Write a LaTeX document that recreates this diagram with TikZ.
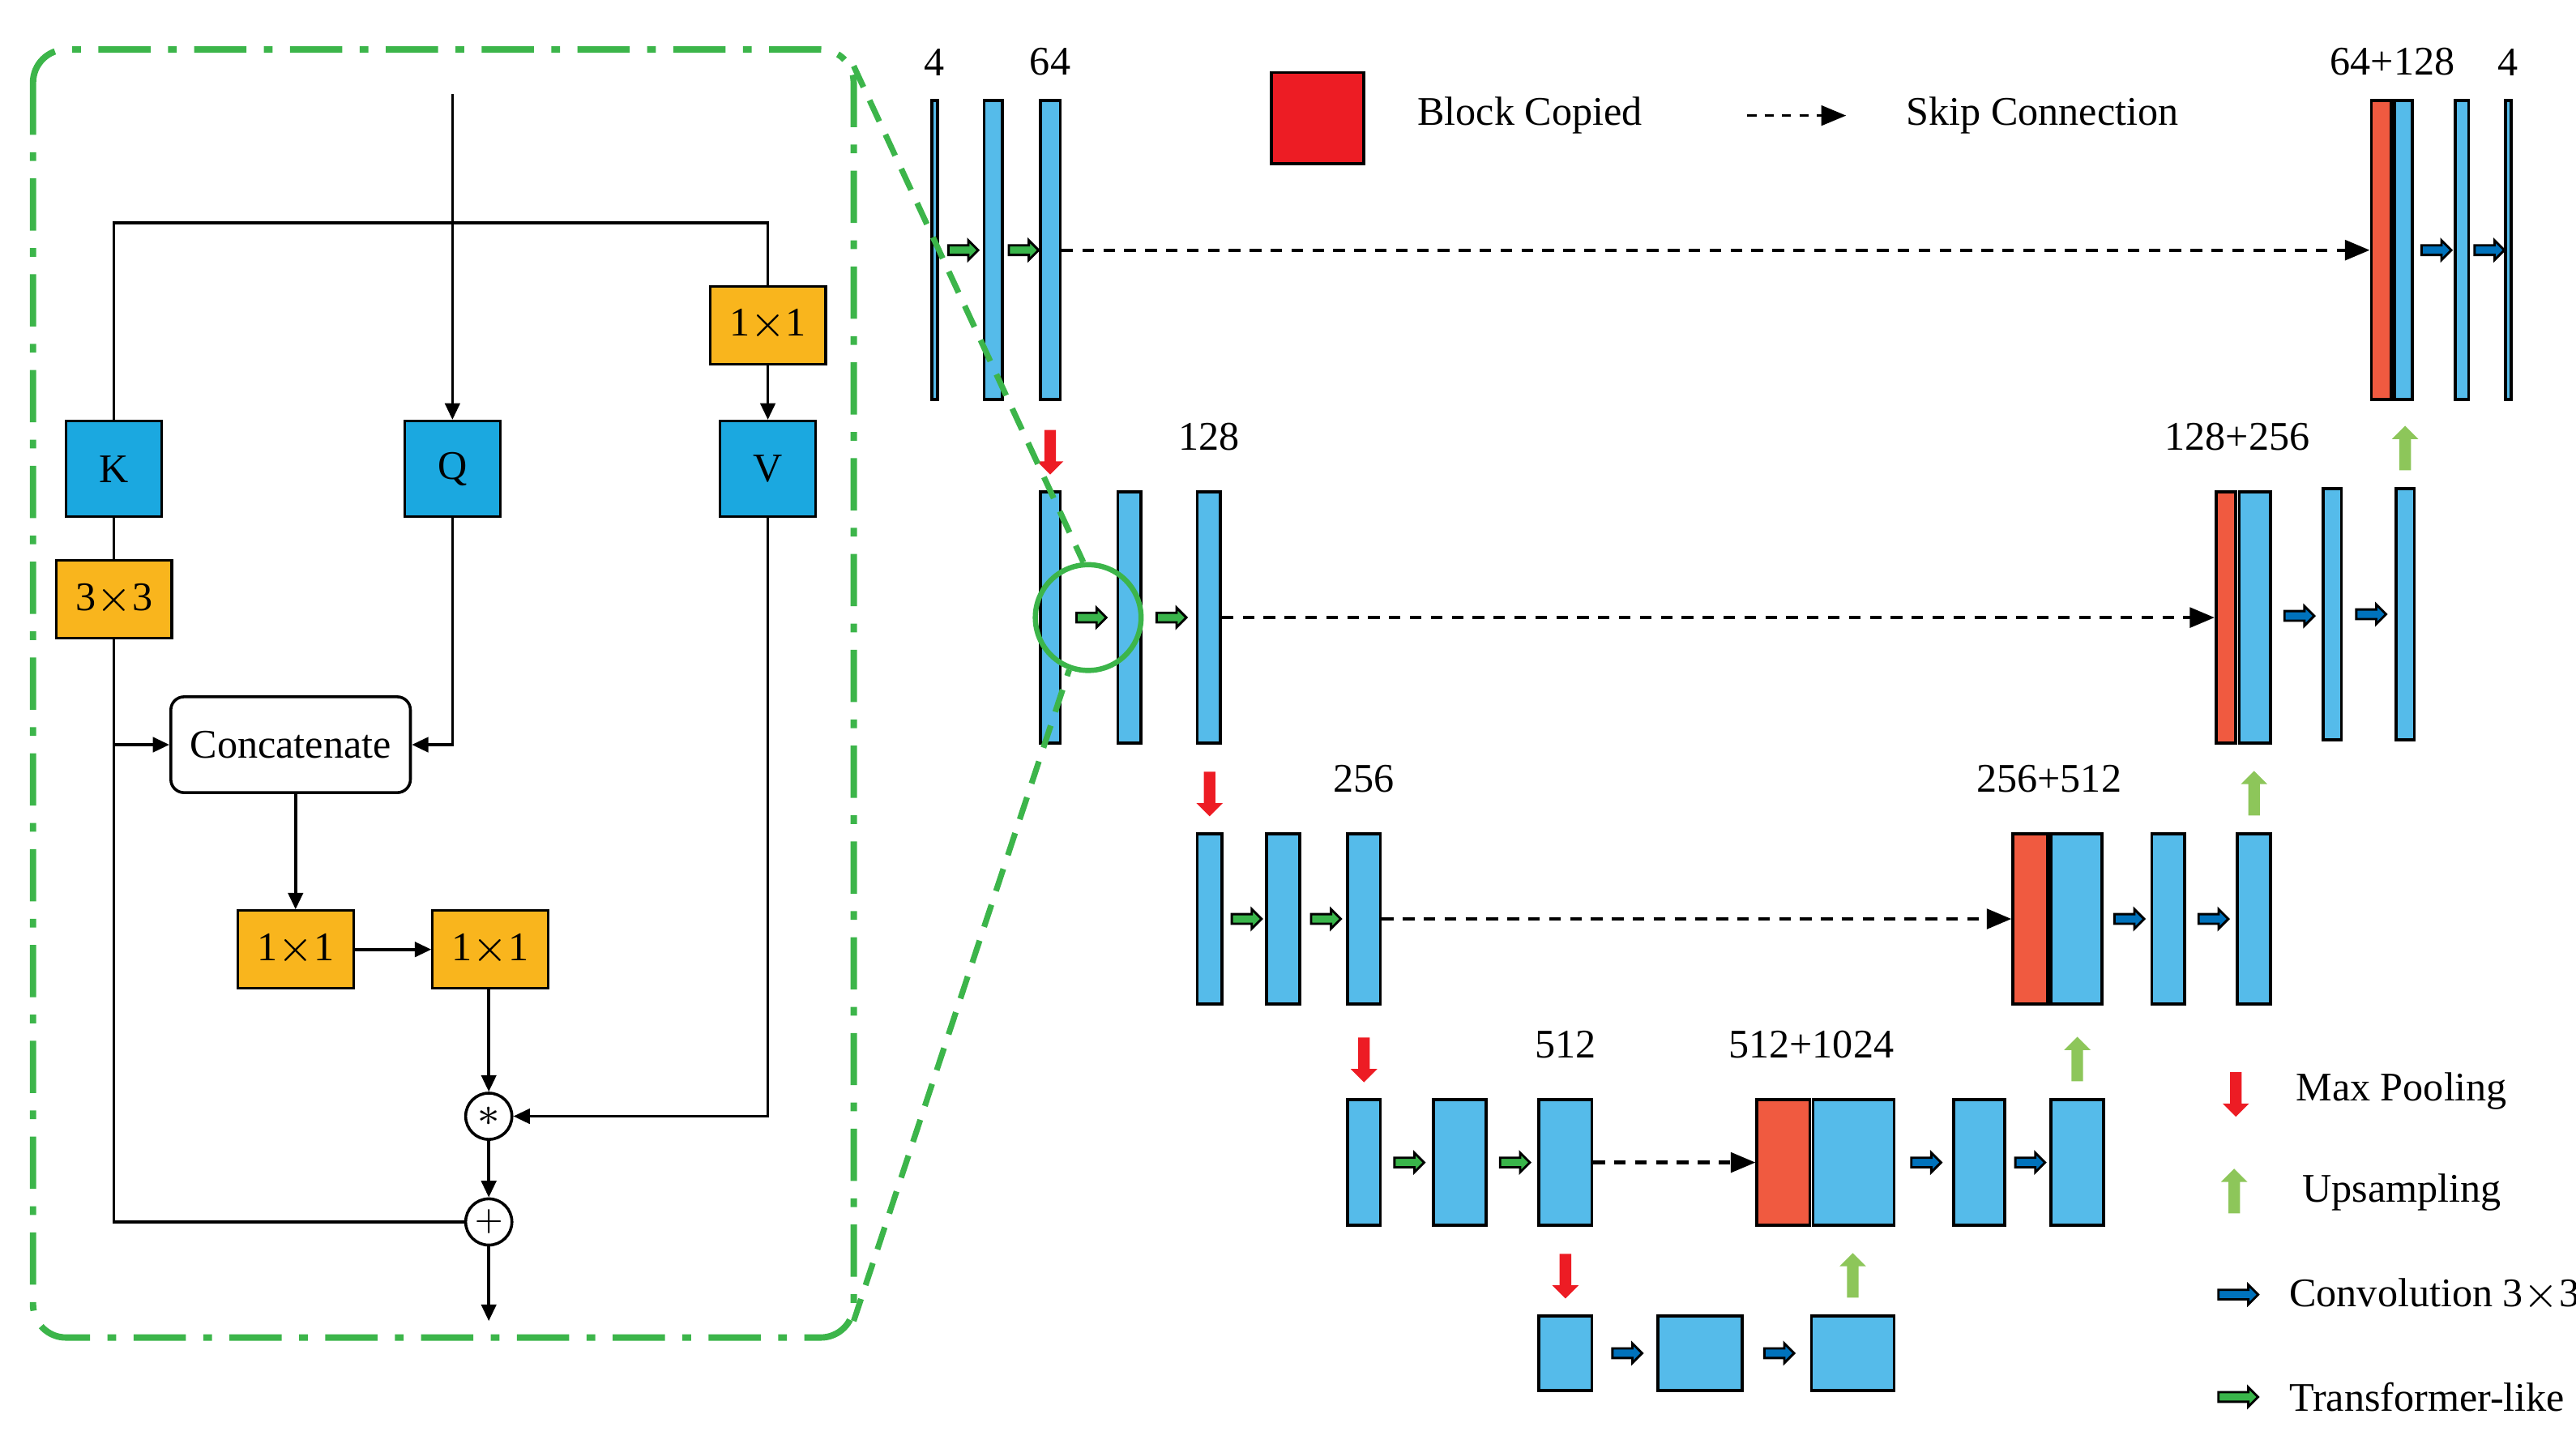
\documentclass[tikz,border=0pt]{standalone}
\usepackage{fontspec}
\setmainfont{Liberation Serif}
\usetikzlibrary{positioning,calc,fit,shapes.arrows,arrows.meta}

\definecolor{fmap}{HTML}{55BBEA}
\definecolor{copyred}{HTML}{F05A40}
\definecolor{legred}{HTML}{ED1C24}
\definecolor{kqv}{HTML}{1BA8E0}
\definecolor{conv}{HTML}{F9B51D}
\definecolor{trgreen}{HTML}{39B54A}
\definecolor{cvblue}{HTML}{0072BC}
\definecolor{upgreen}{HTML}{8DC65A}
\definecolor{zoomgreen}{HTML}{3CB54A}

\tikzset{
	every node/.style={font=\fontsize{7}{8}\selectfont},
	blk/.style={draw, line width=0.5pt, inner sep=0pt, fill=fmap},
	cpy/.style={blk, fill=copyred},
	box/.style={draw, line width=0.45pt, inner sep=0pt, minimum width=0.58cm, minimum height=0.58cm, fill=kqv},
	op/.style={draw, line width=0.45pt, inner sep=0pt, minimum width=0.7cm, minimum height=0.47cm, fill=conv},
	trans/.style={single arrow, draw, line width=0.4pt, fill=trgreen, inner xsep=0pt, inner ysep=0.022cm, minimum height=0.18cm, single arrow head extend=0.03cm, single arrow head indent=0pt},
	cv/.style={trans, fill=cvblue},
	down/.style={single arrow, fill=legred, inner xsep=0pt, inner ysep=0.028cm, minimum height=0.27cm, single arrow head extend=0.045cm, rotate=-90},
	up/.style={down, fill=upgreen, rotate=180},
	skip/.style={draw, line width=0.6pt, dash pattern=on 2pt off 1.6pt, -{Triangle[length=0.15cm,width=0.12cm]}},
	flow/.style={draw, line width=0.5pt, -{Triangle[length=0.1cm,width=0.09cm]}},
	plain/.style={draw, line width=0.5pt}
}

\newcommand{\fmapblock}[6]{\node[#1, fit={(#3+1,#5+1)(#4-1,#6-1)}] (#2) {};}

\begin{document}
\begin{tikzpicture}[x=0.01cm,y=-0.01cm]
	\useasboundingbox (0,0) rectangle (1560,874);

	% ---- zoomed transformer-like block
	\draw[zoomgreen, line width=1.1pt, dash pattern=on 9pt off 3pt on 1.5pt off 3pt, rounded corners=0.2cm] (20,30) rectangle (517,810);
	\node[box] (K) at (69,284) {K};
	\node[box] (Q) at (274,284) {Q};
	\node[box] (V) at (465,284) {V};
	\node[op] (v11) at (465,197) {1$\times$1};
	\node[op] (k33) at (69,363) {3$\times$3};
	\node[draw, rounded corners=0.08cm, line width=0.5pt, minimum width=1.38cm, minimum height=0.58cm] (cat) at (176,451) {Concatenate};
	\node[op] (a11) at (179,575) {1$\times$1};
	\node[op] (b11) at (297,575) {1$\times$1};
	\node[draw, circle, line width=0.5pt, inner sep=0pt, minimum size=0.28cm] (mul) at (296,676) {$\ast$};
	\node[draw, circle, line width=0.5pt, inner sep=0pt, minimum size=0.28cm] (add) at (296,740) {\tiny$+$};
	\coordinate (in) at (274,57);
	\coordinate (out) at (296,800);
	\coordinate (split) at (274,135);

	\draw[flow] (in) -- (Q);
	\draw[plain] (K.north) |- (split) -| (v11.north);
	\draw[flow] (v11) -- (V);
	\draw[plain] (K) -- (k33);
	\draw[plain] (k33.south) |- (add.west);
	\draw[flow] (k33.south |- cat.west) -- (cat.west);
	\draw[flow] (Q.south) |- (cat.east);
	\draw[flow] (cat.south -| a11) -- (a11);
	\draw[flow] (a11) -- (b11);
	\draw[flow] (b11.south -| mul) -- (mul);
	\draw[flow] (V.south) |- (mul.east);
	\draw[flow] (mul) -- (add);
	\draw[flow] (add) -- (out);

	% ---- encoder
	\fmapblock{blk}{e1a}{564}{568}{60}{243}
	\fmapblock{blk}{e1b}{595}{608}{60}{243}
	\fmapblock{blk}{e1c}{629}{643}{60}{243}
	\fmapblock{blk}{e2a}{629}{643}{297}{451}
	\fmapblock{blk}{e2b}{676}{692}{297}{451}
	\fmapblock{blk}{e2c}{724}{740}{297}{451}
	\fmapblock{blk}{e3a}{724}{741}{504}{609}
	\fmapblock{blk}{e3b}{766}{788}{504}{609}
	\fmapblock{blk}{e3c}{815}{837}{504}{609}
	\fmapblock{blk}{e4a}{815}{837}{665}{743}
	\fmapblock{blk}{e4b}{867}{901}{665}{743}
	\fmapblock{blk}{e4c}{931}{965}{665}{743}
	% ---- bottleneck
	\fmapblock{blk}{b5a}{931}{965}{796}{843}
	\fmapblock{blk}{b5b}{1003}{1056}{796}{843}
	\fmapblock{blk}{b5c}{1096}{1148}{796}{843}
	% ---- decoder
	\fmapblock{cpy}{d4r}{1063}{1097}{665}{743}
	\fmapblock{blk}{d4a}{1097}{1148}{665}{743}
	\fmapblock{blk}{d4b}{1182}{1215}{665}{743}
	\fmapblock{blk}{d4c}{1241}{1275}{665}{743}
	\fmapblock{cpy}{d3r}{1218}{1241}{504}{609}
	\fmapblock{blk}{d3a}{1241}{1274}{504}{609}
	\fmapblock{blk}{d3b}{1302}{1324}{504}{609}
	\fmapblock{blk}{d3c}{1354}{1376}{504}{609}
	\fmapblock{cpy}{d2r}{1341}{1355}{297}{451}
	\fmapblock{blk}{d2a}{1355}{1376}{297}{451}
	\fmapblock{blk}{d2b}{1406}{1419}{295}{449}
	\fmapblock{blk}{d2c}{1450}{1463}{295}{449}
	\fmapblock{cpy}{d1r}{1435}{1449}{60}{243}
	\fmapblock{blk}{d1a}{1449}{1462}{60}{243}
	\fmapblock{blk}{d1b}{1486}{1496}{60}{243}
	\fmapblock{blk}{d1c}{1517}{1521}{60}{243}

	% layer arrows
	\foreach \a/\b in {e1a/e1b,e1b/e1c,e2a/e2b,e2b/e2c,e3a/e3b,e3b/e3c,e4a/e4b,e4b/e4c}
		\node[trans] at ($(\a.east)!0.5!(\b.west)$) {};
	\foreach \a/\b in {b5a/b5b,b5b/b5c,d4a/d4b,d4b/d4c,d3a/d3b,d3b/d3c,d2a/d2b,d2b/d2c,d1a/d1b,d1b/d1c}
		\node[cv] at ($(\a.east)!0.5!(\b.west)$) {};

	% skip connections
	\foreach \a/\b in {e1c/d1r,e2c/d2r,e3c/d3r,e4c/d4r}
		\draw[skip] (\a) -- (\b);

	% pooling and upsampling
	\foreach \a in {e2a,e3a,e4a,b5a}
		\node[down] at ($(\a.north)+(0,-25)$) {};
	\foreach \a in {d2c,d3c,d4c,b5c}
		\node[up] at ($(\a.north)+(0,-22)$) {};

	% sizes
	\node[above=0.02cm of e1a.north] {4};
	\node[above=0.02cm of e1c.north] {64};
	\node[above=0.12cm of e2c.north] {128};
	\node[above=0.12cm of e3c.north] {256};
	\node[above=0.12cm of e4c.north] {512};
	\node[above=0.02cm of d1r.north east] {64+128};
	\node[above=0.02cm of d1c.north] {4};
	\node[above=0.12cm of d2r.north east] {128+256};
	\node[above=0.12cm of d3r.north east] {256+512};
	\node[above=0.12cm of d4r.north east] {512+1024};

	% zoom lines
	\node[draw=zoomgreen, line width=0.9pt, circle, minimum size=0.64cm, inner sep=0pt] (zoom) at (659,374) {};
	\draw[zoomgreen, line width=1pt, dash pattern=on 4pt off 2.5pt] (517,40) -- (zoom.95);
	\draw[zoomgreen, line width=1pt, dash pattern=on 4pt off 2.5pt] (517,800) -- (zoom.250);

	% legend
	\fmapblock{blk, fill=legred}{legcopy}{769}{827}{43}{100}
	\node[anchor=west] at (846,70) {Block Copied};
	\coordinate (skipa) at (1058,70);
	\coordinate (skipb) at (1118,70);
	\draw[skip, line width=0.5pt, dash pattern=on 1.6pt off 1.4pt] (skipa) -- (skipb);
	\node[anchor=west] at (1142,70) {Skip Connection};
	\node[down] (legdown) at (1354,661) {};
	\node[anchor=west] at (1378,661) {Max Pooling};
	\node[up] (legup) at (1353,723) {};
	\node[anchor=west] at (1382,722) {Upsampling};
	\node[cv, minimum height=0.24cm] (legcv) at (1354,784) {};
	\node[anchor=west] at (1374,784) {Convolution 3$\times$3};
	\node[trans, minimum height=0.24cm] (legtr) at (1354,846) {};
	\node[anchor=west] at (1374,846) {Transformer-like};
\end{tikzpicture}
\end{document}
